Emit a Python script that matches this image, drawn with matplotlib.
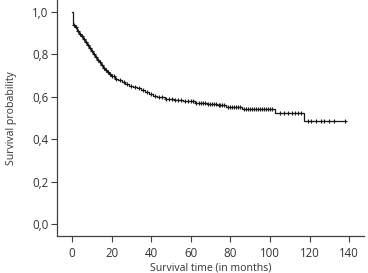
import numpy as np
import matplotlib
matplotlib.use("Agg")
import matplotlib.pyplot as plt

# Kaplan-Meier step data (time in months, survival probability)
step_times = [0, 0.5, 1.5, 2.5, 3.5, 4.5, 5.5, 6.5, 7.5, 8.5, 9.5, 10.5, 11.5, 12.5,
              13.5, 14.5, 15.5, 16.5, 17.5, 18.5, 19.5, 21.5, 23, 25, 27, 29, 31, 33,
              35, 37, 39, 41, 43, 47, 52, 56, 62, 68, 73, 78, 86, 102.5, 117]
step_surv = [1.0, 0.94, 0.93, 0.912, 0.898, 0.885, 0.872, 0.858, 0.845, 0.83, 0.815,
             0.80, 0.788, 0.775, 0.763, 0.75, 0.737, 0.727, 0.717, 0.708, 0.70, 0.685,
             0.678, 0.67, 0.66, 0.652, 0.645, 0.64, 0.632, 0.622, 0.612, 0.603, 0.597,
             0.59, 0.585, 0.578, 0.573, 0.568, 0.562, 0.553, 0.543, 0.525, 0.485]
end_time = 138.5

# censored observations (times)
censor_times = [1, 2, 3, 4, 5, 6, 7, 8, 9, 10, 11, 12, 13, 14, 15, 16, 17, 18, 19, 20,
                21, 22, 24, 26, 28, 30, 32, 34, 36, 38, 40, 42, 44, 45.5, 47.5, 49, 50.5,
                52, 53.5, 55, 57, 58.5, 60, 61, 62.5, 64, 65, 66, 67, 68.5, 69.5, 70.5,
                71.5, 72.5, 74, 75, 76, 77, 79, 80, 81, 82, 83, 84, 85, 87, 88, 89, 90,
                91, 92, 93, 94, 95, 96, 97, 98, 99, 100, 101, 105, 107, 109, 111, 112.5,
                114, 115.5, 119, 120.5, 123, 126, 127.5, 130, 132.5, 138]

xticks = [0, 20, 40, 60, 80, 100, 120, 140]
yticks = [0.0, 0.2, 0.4, 0.6, 0.8, 1.0]
ytick_labels = ["0,0", "0,2", "0,4", "0,6", "0,8", "1,0"]

plt.rcParams['font.family'] = ['Open Sans', 'DejaVu Sans']
fig = plt.figure(figsize=(3.68, 2.73), dpi=100)
ax = fig.add_axes([57/368, 1 - 236/273, (364-57)/368, 236/273])

t = np.array(step_times + [end_time])
s = np.array(step_surv + [step_surv[-1]])
ax.step(t, s, where='post', color='#1a1a1a', lw=0.9)

ct = np.array(censor_times)
idx = np.searchsorted(np.array(step_times), ct, side='right') - 1
cs = np.array(step_surv)[idx]
ax.plot(ct, cs, linestyle='none', marker='+', color='#1a1a1a', ms=3.5, mew=0.8)

ax.set_xlim(-7.6, 147.5)
ax.set_ylim(-0.0566, 1.0566)
ax.set_xticks(xticks)
ax.set_yticks(yticks)
ax.set_yticklabels(ytick_labels)
for sp in ['top', 'right']:
    ax.spines[sp].set_visible(False)
for sp in ['left', 'bottom']:
    ax.spines[sp].set_color('#404040')
    ax.spines[sp].set_linewidth(0.9)
ax.tick_params(axis='both', colors='#404040', labelcolor='#333333', labelsize=8.3,
               length=4, width=0.8)
ax.tick_params(axis='x', pad=4)
ax.tick_params(axis='y', pad=2)
ax.set_xlabel('Survival time (in months)', fontsize=7.6, color='#333333')
ax.xaxis.set_label_coords(0.5, -(262 - 236) / 236)
ax.set_ylabel('Survival probability', fontsize=7.6, color='#333333')
ax.yaxis.set_label_coords(-(57 - 17) / 307, 0.5)

fig.savefig('out.png', dpi=100)
